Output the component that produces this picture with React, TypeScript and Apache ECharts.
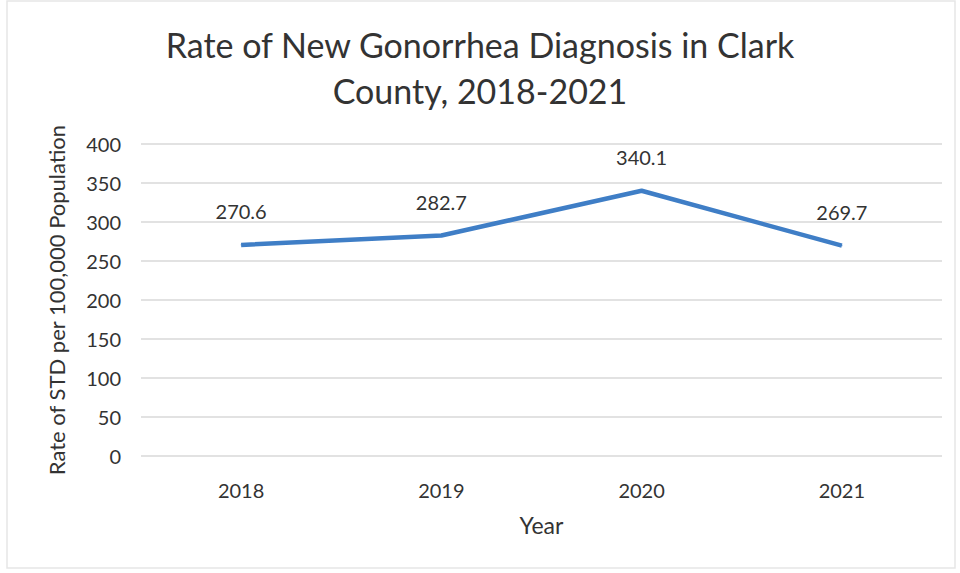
import React, { useEffect, useRef } from "react";
import * as echarts from "echarts";

const categories = ["2018", "2019", "2020", "2021"];
const rates = [270.6, 282.7, 340.1, 269.7];
const titleLines = ["Rate of New Gonorrhea Diagnosis in Clark", "County, 2018-2021"];
const yAxisName = "Rate of STD per 100,000 Population";
const xAxisName = "Year";

const FONT = "Lato, 'Open Sans', sans-serif";
const TEXT = "#333333";

export default function App() {
  const ref = useRef<HTMLDivElement>(null);
  useEffect(() => {
    if (!ref.current) return;
    const chart = echarts.init(ref.current, null, { renderer: "svg" });
    chart.setOption({
      animation: false,
      backgroundColor: "#ffffff",
      textStyle: { fontFamily: FONT },
      title: {
        text: titleLines.join("\n"),
        left: "center",
        top: 16,
        textStyle: {
          fontFamily: FONT,
          fontSize: 34,
          fontWeight: "normal",
          color: TEXT,
          lineHeight: 46,
        },
      },
      grid: { left: 141, right: 18, top: 144, bottom: 117 },
      xAxis: {
        type: "category",
        data: categories,
        boundaryGap: true,
        name: xAxisName,
        nameLocation: "middle",
        nameGap: 57,
        nameTextStyle: { fontFamily: FONT, fontSize: 23, color: TEXT },
        axisLine: { show: false },
        axisTick: { show: false },
        axisLabel: { fontFamily: FONT, fontSize: 20, color: TEXT, margin: 24 },
      },
      yAxis: {
        type: "value",
        min: 0,
        max: 400,
        interval: 50,
        name: yAxisName,
        nameLocation: "middle",
        nameGap: 74,
        nameRotate: 90,
        nameTextStyle: { fontFamily: FONT, fontSize: 22, color: TEXT },
        axisLine: { show: false },
        axisTick: { show: false },
        axisLabel: { fontFamily: FONT, fontSize: 20, color: TEXT, margin: 20 },
        splitLine: { lineStyle: { color: "#d9d9d9", width: 1.5 } },
      },
      series: [
        {
          type: "line",
          data: rates,
          symbol: "circle",
          symbolSize: 1,
          showSymbol: true,
          itemStyle: { color: "#3f7ec6" },
          lineStyle: { color: "#3f7ec6", width: 4.5 },
          label: {
            show: true,
            position: "top",
            distance: 23,
            fontFamily: FONT,
            fontSize: 20,
            color: TEXT,
            formatter: (p: any) => Number(p.value).toFixed(1),
          },
        },
      ],
      graphic: [
        {
          type: "rect",
          shape: { x: 7, y: 1, width: 948, height: 567 },
          style: { fill: "none", stroke: "#e6e6e6", lineWidth: 1.5 },
        },
      ],
    });
    return () => chart.dispose();
  }, []);
  return (
    <div
      ref={ref}
      style={{ position: "absolute", left: 0, top: 0, width: 960, height: 573 }}
    />
  );
}
